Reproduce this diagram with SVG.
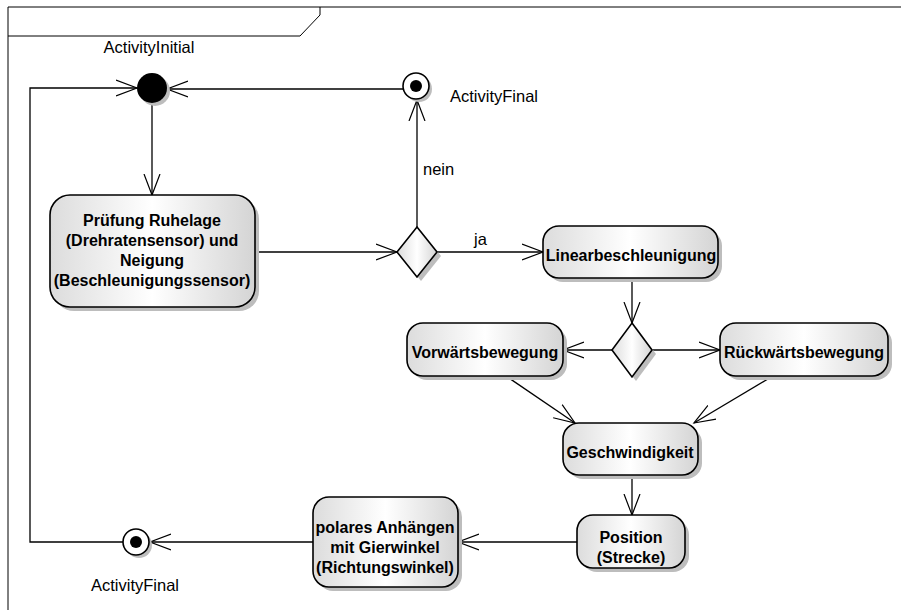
<svg xmlns="http://www.w3.org/2000/svg" width="901" height="610" viewBox="0 0 901 610">
<defs>
<linearGradient id="g" x1="0" y1="0" x2="1" y2="0">
<stop offset="0" stop-color="#dcdcdc"/>
<stop offset="0.5" stop-color="#ffffff"/>
<stop offset="1" stop-color="#d4d4d4"/>
</linearGradient>
<marker id="arr" markerUnits="userSpaceOnUse" markerWidth="24" markerHeight="20" viewBox="-21 -10 24 20" refX="0" refY="0" orient="auto">
<path d="M-21,-8 L0,0 L-21,8" fill="none" stroke="#000" stroke-width="1.2"/>
</marker>
</defs>
<style>
.frame{fill:none;stroke:#000;stroke-width:1}
.node{fill:url(#g);stroke:#000;stroke-width:1.6}
.shadow{fill:#bdbdbd}
.t{font-family:"Liberation Sans",Arial,sans-serif;font-size:16px;font-weight:bold;fill:#000;text-anchor:middle}
.lbl{font-family:"Liberation Sans",Arial,sans-serif;font-size:16.5px;fill:#000}
.c{fill:none;stroke:#000;stroke-width:1.3}
</style>
<rect width="901" height="610" fill="#fff"/>
<g id="frame">
<path class="frame" d="M8,610 L8,7 L901,7"/>
<path class="frame" d="M8,36 L300,36 L320,15 L320,7"/>
</g>
<g id="connectors">
<path class="c" d="M152,104 L152,195" marker-end="url(#arr)"/>
<path class="c" d="M255,252 L397,252" marker-end="url(#arr)"/>
<path class="c" d="M417,227 L417,100" marker-end="url(#arr)"/>
<path class="c" d="M403,89 L167,89" marker-end="url(#arr)"/>
<path class="c" d="M437,252 L543,252" marker-end="url(#arr)"/>
<path class="c" d="M632,278 L632,323" marker-end="url(#arr)"/>
<path class="c" d="M612,350 L563,350" marker-end="url(#arr)"/>
<path class="c" d="M652,350 L720,350" marker-end="url(#arr)"/>
<path class="c" d="M506,376 L575,423" marker-end="url(#arr)"/>
<path class="c" d="M773,376 L694,423" marker-end="url(#arr)"/>
<path class="c" d="M632,475 L632,515" marker-end="url(#arr)"/>
<path class="c" d="M577,542 L458,542" marker-end="url(#arr)"/>
<path class="c" d="M313,542 L150,542" marker-end="url(#arr)"/>
<path class="c" d="M123,542 L30,542 L30,88 L137,88" marker-end="url(#arr)"/>
<text class="lbl" x="423" y="175">nein</text>
<text class="lbl" x="474" y="245">ja</text>
</g>
<g id="initial">
<circle class="shadow" cx="155" cy="91" r="15"/>
<circle cx="152" cy="88" r="15" fill="#000"/>
<text class="lbl" x="149" y="53" text-anchor="middle">ActivityInitial</text>
</g>
<g id="finalTop">
<circle class="shadow" cx="419" cy="89" r="13"/>
<circle cx="416" cy="86" r="13" fill="#fff" stroke="#000" stroke-width="1.6"/>
<circle cx="416" cy="86" r="6" fill="#000"/>
<text class="lbl" x="450" y="102">ActivityFinal</text>
</g>
<g id="finalBottom">
<circle class="shadow" cx="139" cy="545" r="13"/>
<circle cx="136" cy="542" r="13" fill="#fff" stroke="#000" stroke-width="1.6"/>
<circle cx="136" cy="542" r="6" fill="#000"/>
<text class="lbl" x="135" y="591" text-anchor="middle">ActivityFinal</text>
</g>
<g id="pruefung">
<rect class="shadow" x="54" y="199" width="205" height="112" rx="20"/>
<rect class="node" x="50" y="195" width="205" height="112" rx="20"/>
<text class="t" x="152" y="226">Prüfung Ruhelage</text>
<text class="t" x="152" y="246">(Drehratensensor) und</text>
<text class="t" x="152" y="266">Neigung</text>
<text class="t" x="152" y="286">(Beschleunigungssensor)</text>
</g>
<g id="decision1">
<path class="shadow" d="M421,231 L441,256 L421,281 L401,256 Z"/>
<path class="node" d="M417,227 L437,252 L417,277 L397,252 Z"/>
</g>
<g id="linear">
<rect class="shadow" x="547" y="230" width="175" height="52" rx="16"/>
<rect class="node" x="543" y="226" width="175" height="52" rx="16"/>
<text class="t" x="631" y="261">Linearbeschleunigung</text>
</g>
<g id="decision2">
<path class="shadow" d="M636,327 L656,354 L636,381 L616,354 Z"/>
<path class="node" d="M632,323 L652,350 L632,377 L612,350 Z"/>
</g>
<g id="vorwaerts">
<rect class="shadow" x="411" y="327" width="156" height="53" rx="16"/>
<rect class="node" x="407" y="323" width="156" height="53" rx="16"/>
<text class="t" x="485" y="358">Vorwärtsbewegung</text>
</g>
<g id="rueckwaerts">
<rect class="shadow" x="724" y="327" width="168" height="53" rx="16"/>
<rect class="node" x="720" y="323" width="168" height="53" rx="16"/>
<text class="t" x="804" y="358">Rückwärtsbewegung</text>
</g>
<g id="geschwindigkeit">
<rect class="shadow" x="567" y="427" width="135" height="52" rx="16"/>
<rect class="node" x="563" y="423" width="135" height="52" rx="16"/>
<text class="t" x="630" y="458">Geschwindigkeit</text>
</g>
<g id="position">
<rect class="shadow" x="581" y="519" width="108" height="53" rx="16"/>
<rect class="node" x="577" y="515" width="108" height="53" rx="16"/>
<text class="t" x="631" y="543">Position</text>
<text class="t" x="631" y="563">(Strecke)</text>
</g>
<g id="polares">
<rect class="shadow" x="317" y="501" width="145" height="90" rx="16"/>
<rect class="node" x="313" y="497" width="145" height="90" rx="16"/>
<text class="t" x="385" y="533">polares Anhängen</text>
<text class="t" x="385" y="553">mit Gierwinkel</text>
<text class="t" x="385" y="573">(Richtungswinkel)</text>
</g>
</svg>
